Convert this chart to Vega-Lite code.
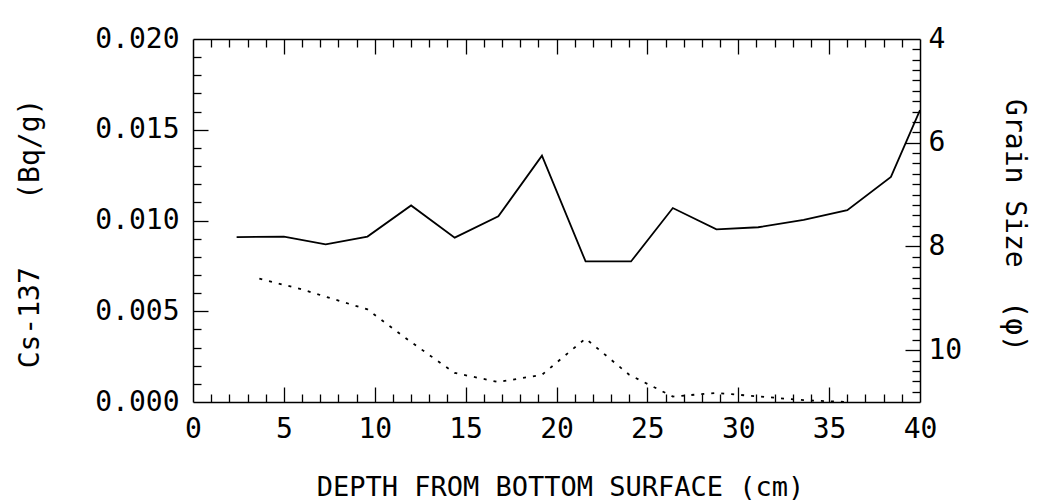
{
  "$schema": "https://vega.github.io/schema/vega-lite/v6.json",
  "width": 727,
  "height": 363,
  "autosize": {"type": "none"},
  "padding": {"left": 193, "top": 39, "right": 130, "bottom": 99},
  "background": "white",
  "config": {
    "view": {"stroke": null},
    "axis": {
      "grid": false,
      "domainColor": "black",
      "tickColor": "black",
      "labelColor": "black",
      "titleColor": "black",
      "labelFont": "DejaVu Sans Mono",
      "titleFont": "DejaVu Sans Mono",
      "labelFontWeight": "normal",
      "titleFontWeight": "normal",
      "domainWidth": 1.5,
      "tickWidth": 1.3,
      "labelOverlap": false,
      "labelFlush": false
    }
  },
  "datasets": {
    "grain": [
      {"depth": 2.4, "grain": 7.82},
      {"depth": 5.0, "grain": 7.81},
      {"depth": 7.3, "grain": 7.96},
      {"depth": 9.6, "grain": 7.81},
      {"depth": 12.0, "grain": 7.21},
      {"depth": 14.4, "grain": 7.83},
      {"depth": 16.8, "grain": 7.42},
      {"depth": 19.2, "grain": 6.25},
      {"depth": 21.6, "grain": 8.29},
      {"depth": 24.1, "grain": 8.29},
      {"depth": 26.4, "grain": 7.26},
      {"depth": 28.8, "grain": 7.67},
      {"depth": 31.1, "grain": 7.63},
      {"depth": 33.6, "grain": 7.49},
      {"depth": 36.0, "grain": 7.30},
      {"depth": 38.4, "grain": 6.66},
      {"depth": 40.0, "grain": 5.37}
    ],
    "cs": [
      {"depth": 3.65, "cs": 0.0068},
      {"depth": 6.0, "cs": 0.0062},
      {"depth": 9.6, "cs": 0.0051},
      {"depth": 12.0, "cs": 0.0033},
      {"depth": 14.4, "cs": 0.0016},
      {"depth": 16.8, "cs": 0.0011},
      {"depth": 19.2, "cs": 0.0015},
      {"depth": 21.6, "cs": 0.0035},
      {"depth": 24.0, "cs": 0.0015},
      {"depth": 26.4, "cs": 0.0003},
      {"depth": 28.8, "cs": 0.0005},
      {"depth": 31.2, "cs": 0.0003},
      {"depth": 33.6, "cs": 0.0001},
      {"depth": 36.0, "cs": 0.0}
    ]
  },
  "layer": [
    {
      "data": {"name": "grain"},
      "mark": {"type": "line", "color": "black", "strokeWidth": 1.8},
      "encoding": {
        "x": {"field": "depth", "type": "quantitative", "scale": {"domain": [0, 40], "nice": false, "zero": false},
          "axis": {"orient": "bottom", "values": [0, 5, 10, 15, 20, 25, 30, 35, 40], "ticks": false, "domain": true,
            "labelFontSize": 28, "labelPadding": 13,
            "title": "DEPTH FROM BOTTOM SURFACE (cm)", "titleFontSize": 27, "titleX": 367, "titleY": 85,
            "titleAlign": "center", "titleBaseline": "middle", "titleAngle": 0}},
        "y": {"field": "grain", "type": "quantitative", "scale": {"domain": [4, 11], "reverse": true, "nice": false, "zero": false},
          "axis": {"orient": "right", "values": [4, 6, 8, 10], "ticks": false, "domain": true,
            "labelFontSize": 28, "labelPadding": 8, "labelAlign": "left", "labelBaseline": "middle",
            "title": "Grain\u00a0Size\u00a0\u00a0(φ)", "titleFontSize": 28, "titleAngle": 90, "titleX": 93, "titleY": 186,
            "titleAlign": "center", "titleBaseline": "middle"}}
      }
    },
    {
      "data": {"name": "cs"},
      "mark": {"type": "line", "color": "black", "strokeWidth": 1.8, "strokeDash": [3, 7]},
      "encoding": {
        "x": {"field": "depth", "type": "quantitative", "scale": {"domain": [0, 40], "nice": false, "zero": false},
          "axis": {"orient": "top", "offset": -363, "values": [5, 10, 15, 20, 25, 30, 35], "labels": false, "domain": false, "tickSize": 15, "title": null}},
        "y": {"field": "cs", "type": "quantitative", "scale": {"domain": [0, 0.02], "nice": false, "zero": false},
          "axis": {"orient": "left", "values": [0, 0.005, 0.01, 0.015, 0.02], "format": ".3f", "ticks": false, "domain": true,
            "labelFontSize": 28, "labelPadding": 14, "labelBaseline": "middle",
            "title": "Cs-137\u00a0\u00a0\u00a0\u00a0(Bq/g)", "titleFontSize": 28, "titleAngle": -90, "titleX": -163, "titleY": 194,
            "titleAlign": "center", "titleBaseline": "middle"}}
      }
    },
    {
      "data": {"name": "grain"},
      "mark": {"type": "line", "opacity": 0},
      "encoding": {
        "x": {"field": "depth", "type": "quantitative", "scale": {"domain": [0, 40], "nice": false, "zero": false},
          "axis": {"orient": "top", "offset": -363, "values": [1,2,3,4,6,7,8,9,11,12,13,14,16,17,18,19,21,22,23,24,26,27,28,29,31,32,33,34,36,37,38,39], "labels": false, "domain": false, "tickSize": 8, "title": null}},
        "y": {"field": "grain", "type": "quantitative", "scale": {"domain": [4, 11], "reverse": true, "nice": false, "zero": false},
          "axis": {"orient": "left", "offset": -727, "values": [6, 8, 10], "labels": false, "domain": false, "tickSize": 15, "title": null}}
      }
    },
    {
      "data": {"name": "grain"},
      "mark": {"type": "line", "opacity": 0},
      "encoding": {
        "x": {"field": "depth", "type": "quantitative", "scale": {"domain": [0, 40], "nice": false, "zero": false},
          "axis": {"orient": "bottom", "offset": -363, "values": [5, 10, 15, 20, 25, 30, 35], "labels": false, "domain": true, "tickSize": 15, "title": null}},
        "y": {"field": "grain", "type": "quantitative", "scale": {"domain": [4, 11], "reverse": true, "nice": false, "zero": false},
          "axis": {"orient": "left", "offset": -727, "values": [4.2,4.4,4.6,4.8,5,5.2,5.4,5.6,5.8,6.2,6.4,6.6,6.8,7,7.2,7.4,7.6,7.8,8.2,8.4,8.6,8.8,9,9.2,9.4,9.6,9.8,10.2,10.4,10.6,10.8], "labels": false, "domain": false, "tickSize": 8, "title": null}}
      }
    },
    {
      "data": {"name": "cs"},
      "mark": {"type": "line", "opacity": 0},
      "encoding": {
        "x": {"field": "depth", "type": "quantitative", "scale": {"domain": [0, 40], "nice": false, "zero": false},
          "axis": {"orient": "bottom", "offset": -363, "values": [1,2,3,4,6,7,8,9,11,12,13,14,16,17,18,19,21,22,23,24,26,27,28,29,31,32,33,34,36,37,38,39], "labels": false, "domain": false, "tickSize": 8, "title": null}},
        "y": {"field": "cs", "type": "quantitative", "scale": {"domain": [0, 0.02], "nice": false, "zero": false},
          "axis": {"orient": "right", "offset": -727, "values": [0.005, 0.01, 0.015], "labels": false, "domain": false, "tickSize": 15, "title": null}}
      }
    },
    {
      "data": {"name": "cs"},
      "mark": {"type": "line", "opacity": 0},
      "encoding": {
        "x": {"field": "depth", "type": "quantitative", "scale": {"domain": [0, 40], "nice": false, "zero": false}, "axis": null},
        "y": {"field": "cs", "type": "quantitative", "scale": {"domain": [0, 0.02], "nice": false, "zero": false},
          "axis": {"orient": "right", "offset": -727, "values": [0.001,0.002,0.003,0.004,0.006,0.007,0.008,0.009,0.011,0.012,0.013,0.014,0.016,0.017,0.018,0.019], "labels": false, "domain": false, "tickSize": 8, "title": null}}
      }
    }
  ],
  "resolve": {"scale": {"y": "independent"}, "axis": {"x": "independent", "y": "independent"}}
}
